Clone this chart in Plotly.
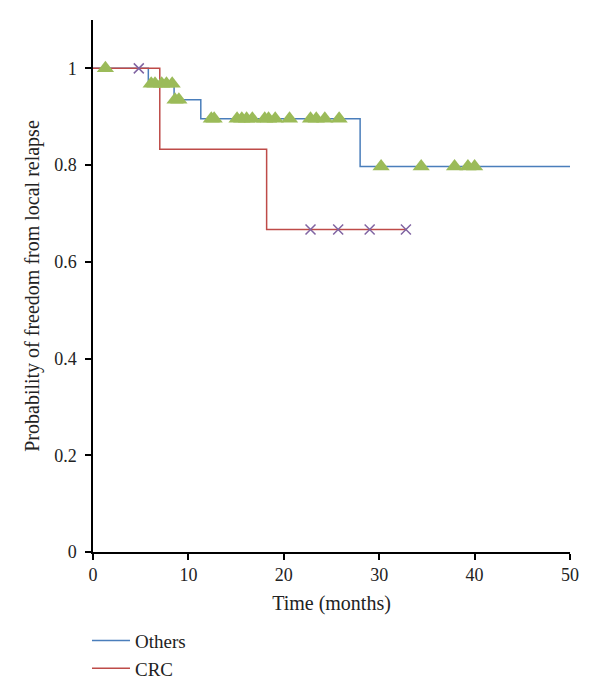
import plotly.graph_objects as go

# Kaplan-Meier step curves (event times and survival values)
others_time = [0, 5.8, 8.5, 11.3, 28.0, 50]
others_surv = [1.0, 0.968, 0.935, 0.896, 0.797, 0.797]
crc_time = [0, 7.0, 18.2, 32.9]
crc_surv = [1.0, 0.833, 0.667, 0.667]

# Censored observations
others_cens_time = [1.3, 6.1, 6.5, 7.2, 7.7, 8.3, 8.6, 9.0,
                    12.4, 12.7, 15.1, 15.6, 16.1, 16.7, 18.0, 18.4, 19.1, 20.6,
                    22.8, 23.4, 24.3, 25.8, 30.2, 34.4, 37.9, 39.3, 40.0]
others_cens_surv = [1.0, 0.968, 0.968, 0.968, 0.968, 0.968, 0.935, 0.935,
                    0.896, 0.896, 0.896, 0.896, 0.896, 0.896, 0.896, 0.896, 0.896, 0.896,
                    0.896, 0.896, 0.896, 0.896, 0.797, 0.797, 0.797, 0.797, 0.797]
crc_cens_time = [4.8, 22.8, 25.7, 29.0, 32.8]
crc_cens_surv = [1.0, 0.667, 0.667, 0.667, 0.667]

x_ticks = [0, 10, 20, 30, 40, 50]
y_ticks = [0, 0.2, 0.4, 0.6, 0.8, 1]
y_tick_labels = ["0", "0.2", "0.4", "0.6", "0.8", "1"]

BLUE = "#4a7ebb"
RED = "#be4b48"
GREEN = "#9bbb59"
PURPLE = "#8064a2"
FONT = "Liberation Serif"

fig = go.Figure()
fig.add_trace(go.Scatter(x=others_time, y=others_surv, mode="lines", line_shape="hv",
                         line=dict(color=BLUE, width=1.5), name="Others"))
fig.add_trace(go.Scatter(x=crc_time, y=crc_surv, mode="lines", line_shape="hv",
                         line=dict(color=RED, width=1.5), name="CRC"))
fig.add_trace(go.Scatter(x=others_cens_time, y=others_cens_surv, mode="markers",
                         marker=dict(symbol="triangle-up", size=15, color=GREEN),
                         showlegend=False, hoverinfo="x+y"))
fig.add_trace(go.Scatter(x=crc_cens_time, y=crc_cens_surv, mode="markers",
                         marker=dict(symbol="x-thin", size=10,
                                     line=dict(color=PURPLE, width=1.5)),
                         showlegend=False, hoverinfo="x+y"))

axis_common = dict(showline=True, linecolor="black", linewidth=1.5, ticks="outside",
                   ticklen=6, tickcolor="black", tickwidth=1.5, showgrid=False,
                   zeroline=False, tickfont=dict(family=FONT, size=18, color="#222"))
fig.update_xaxes(range=[0, 50], tickvals=x_ticks,
                 title=dict(text="Time (months)", font=dict(family=FONT, size=20, color="#222"),
                            standoff=12),
                 **axis_common)
fig.update_yaxes(range=[0, 1.1], tickvals=y_ticks, ticktext=y_tick_labels,
                 ticklabelstandoff=5,
                 title=dict(text="Probability of freedom from local relapse",
                            font=dict(family=FONT, size=20, color="#222"), standoff=9),
                 **axis_common)

# page body adds an 8px offset; figure is sized so the plot lands where the reference has it
fig.update_layout(
    width=592, height=691,
    margin=dict(l=85, r=30, t=12, b=146),
    plot_bgcolor="white", paper_bgcolor="white",
    showlegend=True,
    legend=dict(x=-0.0126, xanchor="left", y=-0.129, yanchor="top",
                itemwidth=38,
                font=dict(family=FONT, size=19, color="#222"),
                bgcolor="rgba(0,0,0,0)", tracegroupgap=0),
)

fig.write_html("out.html")
